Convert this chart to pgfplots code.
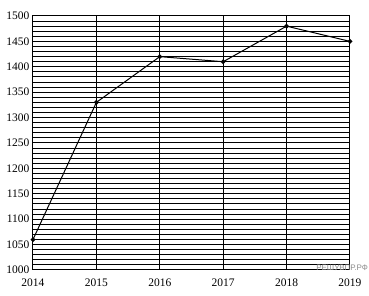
\documentclass[border=0pt]{standalone}
\usepackage{fontspec}
\setmainfont{Liberation Serif}
\newfontfamily\wmfont{Liberation Sans}
\usepackage{pgfplots}
\pgfplotsset{compat=1.18}
\begin{document}
\begin{tikzpicture}
\begin{axis}[
  scale only axis,
  width=317pt, height=254pt,
  xmin=2014, xmax=2019,
  ymin=1000, ymax=1500,
  xtick={2014,2015,2016,2017,2018,2019},
  xticklabels={2014,2015,2016,2017,2018,2019},
  ytick={1000,1050,...,1500},
  minor ytick={1000,1010,...,1500},
  grid=both,
  major grid style={black, line width=1pt},
  minor grid style={black, line width=1pt},
  axis line style={black, line width=1pt},
  tick style={draw=none},
  minor tick style={draw=none},
  ticklabel style={font=\fontsize{11.5}{13}\selectfont},
  /pgf/number format/assume math mode=true,
  /pgf/number format/set thousands separator={},
  xticklabel style={yshift=-5pt},
  yticklabel style={xshift=0pt},
  clip=false,
]
\addplot[black, line width=1pt, mark=*, mark size=1.8pt] coordinates {
  (2014,1060) (2015,1330) (2016,1420) (2017,1410) (2018,1480) (2019,1450)
};
\node[anchor=east, text=black!45, font=\wmfont\fontsize{8}{9}\selectfont, inner sep=0pt] at (rel axis cs:1.057,0.01) {РЕШУВПР.РФ};
\end{axis}
\pgfresetboundingbox
\path (-33pt,-26pt) rectangle (336pt,270pt);
\end{tikzpicture}
\end{document}
